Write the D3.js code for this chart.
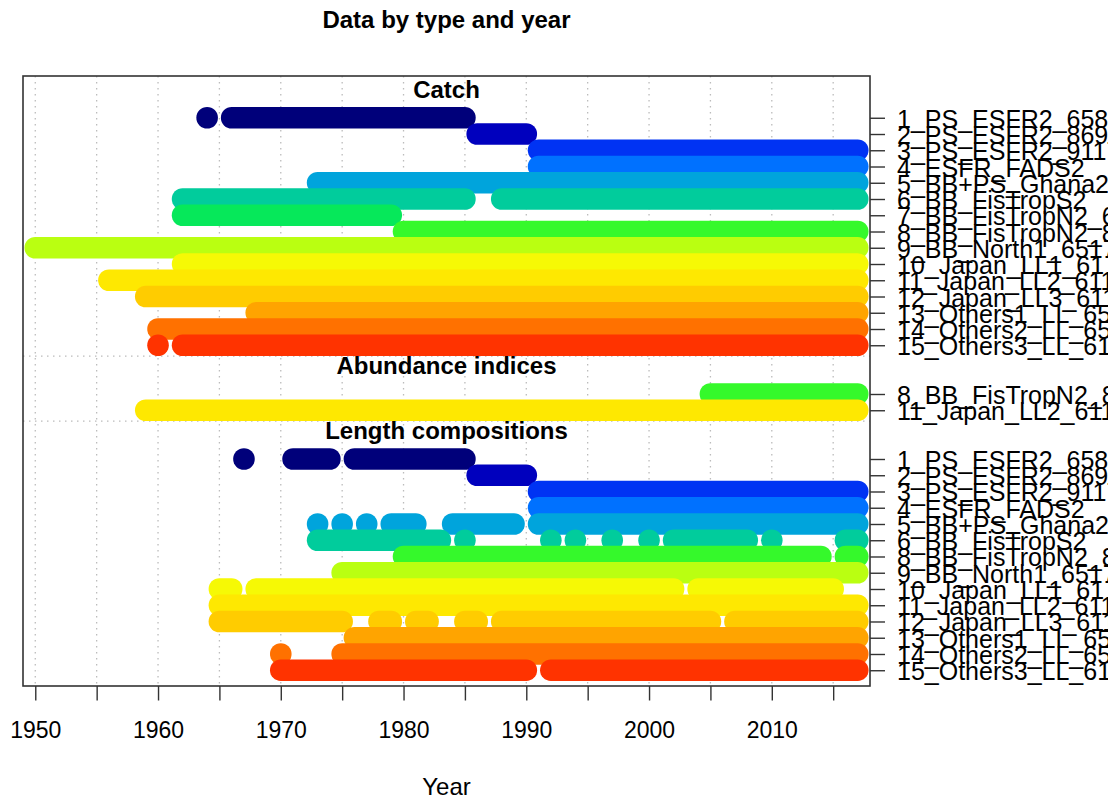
<!DOCTYPE html>
<html>
<head>
<meta charset="utf-8">
<script src="https://cdn.jsdelivr.net/npm/d3@7"></script>
<style>
  body { margin: 0; background: #fff; }
  svg { display: block; }
  text { font-family: "Liberation Sans", Arial, Helvetica, sans-serif; fill: #000; }
</style>
</head>
<body>
<svg id="chart" width="1108" height="803"></svg>
<script>
// Fleet labels, in fleet-number order
const fleetNames = [
  "1_PS_ESFR2_6585", "2_PS_ESFR2_8690", "3_PS_ESFR2_9117", "4_ESFR_FADS2",
  "5_BB+PS_Ghana2", "6_BB_FisTropS2", "7_BB_FisTropN2_6279", "8_BB_FisTropN2_8017",
  "9_BB_North1_6517", "10_Japan_LL1_6175", "11_Japan_LL2_6117", "12_Japan_LL3_6117",
  "13_Others1_LL_6517", "14_Others2_LL_6517", "15_Others3_LL_6117"
];

// One colour per fleet (dark blue -> red)
const fleetColors = [
  "#00007A", "#0000BE", "#0033F3", "#0071FF", "#00A4DC", "#01CC9C", "#06E85A",
  "#35F92B", "#BAFF11", "#F6F905", "#FEE801", "#FFCC00", "#FFA400", "#FF7100", "#FF3300"
];

// Years with data: [fleet, [[firstYear, lastYear], ...]]
const catchRuns = [
  [1,  [[1964, 1964], [1966, 1985]]],
  [2,  [[1986, 1990]]],
  [3,  [[1991, 2017]]],
  [4,  [[1991, 2017]]],
  [5,  [[1973, 2017]]],
  [6,  [[1962, 1985], [1988, 2017]]],
  [7,  [[1962, 1979]]],
  [8,  [[1980, 2017]]],
  [9,  [[1950, 2017]]],
  [10, [[1962, 2017]]],
  [11, [[1956, 2017]]],
  [12, [[1959, 2017]]],
  [13, [[1968, 2017]]],
  [14, [[1960, 2017]]],
  [15, [[1960, 1960], [1962, 2017]]]
];

const indexRuns = [
  [8,  [[2005, 2017]]],
  [11, [[1959, 2017]]]
];

const lencompRuns = [
  [1,  [[1967, 1967], [1971, 1974], [1976, 1985]]],
  [2,  [[1986, 1990]]],
  [3,  [[1991, 2017]]],
  [4,  [[1991, 2017]]],
  [5,  [[1973, 1973], [1975, 1975], [1977, 1977], [1979, 1981], [1984, 1989], [1991, 2017]]],
  [6,  [[1973, 1983], [1985, 1985], [1992, 1992], [1994, 1994], [1997, 1997], [2000, 2000],
        [2002, 2008], [2010, 2010], [2016, 2017]]],
  [8,  [[1980, 2014], [2016, 2017]]],
  [9,  [[1975, 2017]]],
  [10, [[1965, 1966], [1968, 2002], [2004, 2015]]],
  [11, [[1965, 2017]]],
  [12, [[1965, 1975], [1978, 1979], [1981, 1982], [1985, 1986], [1988, 2005], [2007, 2017]]],
  [13, [[1976, 2017]]],
  [14, [[1970, 1970], [1975, 2017]]],
  [15, [[1970, 1990], [1992, 2017]]]
];

const sectionTitles = ["Catch", "Abundance indices", "Length compositions"];
const yearTicks = [1950, 1955, 1960, 1965, 1970, 1975, 1980, 1985, 1990, 1995, 2000, 2005, 2010, 2015];
const yearLabels = [1950, 1960, 1970, 1980, 1990, 2000, 2010];

// ---- layout ----
const box = { left: 23, right: 870, top: 76, bottom: 686 };
const dotR = 10.8;
const FS = 24;

const svg = d3.select("#chart");

const x = d3.scaleLinear().domain([1949, 2018]).range([box.left, box.right]);

// Each row gets one slot; two empty slots separate the data types
const sections = [catchRuns, indexRuns, lencompRuns].map((runs, i) => ({ title: sectionTitles[i], runs }));
let slot = 0;
const rows = [];
sections.forEach((s, i) => {
  if (i > 0) slot += 2;
  s.first = slot;
  s.runs.forEach(([fleet, spans]) => {
    rows.push({ slot, fleet, spans });
    slot += 1;
  });
  s.last = slot - 1;
});

const y = d3.scaleLinear().domain([-2.57, 34.97]).range([box.top, box.bottom]);

// vertical dotted grid
svg.append("g")
  .selectAll("line")
  .data(yearTicks)
  .join("line")
  .attr("x1", d => x(d)).attr("x2", d => x(d))
  .attr("y1", box.top).attr("y2", box.bottom)
  .attr("stroke", "#bcbcbc")
  .attr("stroke-width", 1.3)
  .attr("stroke-dasharray", "1.5,4.5");

// dotted separators between data types
svg.append("g")
  .selectAll("line")
  .data(sections.slice(0, -1))
  .join("line")
  .attr("x1", box.left).attr("x2", box.right)
  .attr("y1", d => y(d.last + 0.67)).attr("y2", d => y(d.last + 0.67))
  .attr("stroke", "#bcbcbc")
  .attr("stroke-width", 1.3)
  .attr("stroke-dasharray", "1.5,4.5");

// data runs: each year is a dot, consecutive years merge into a rounded bar
const runData = rows.flatMap(r => r.spans.map(([a, b]) => ({ slot: r.slot, fleet: r.fleet, a, b })));
svg.append("g")
  .selectAll("rect")
  .data(runData)
  .join("rect")
  .attr("x", d => x(d.a) - dotR)
  .attr("width", d => x(d.b) - x(d.a) + 2 * dotR)
  .attr("y", d => y(d.slot) - dotR)
  .attr("height", 2 * dotR)
  .attr("rx", dotR).attr("ry", dotR)
  .attr("fill", d => fleetColors[d.fleet - 1]);

// section titles
svg.append("g")
  .selectAll("text")
  .data(sections)
  .join("text")
  .attr("x", (box.left + box.right) / 2)
  .attr("y", d => y(d.first) - 19.5)
  .attr("text-anchor", "middle")
  .attr("font-weight", "bold")
  .attr("font-size", FS)
  .text(d => d.title);

// plot frame
svg.append("rect")
  .attr("x", box.left).attr("y", box.top)
  .attr("width", box.right - box.left).attr("height", box.bottom - box.top)
  .attr("fill", "none").attr("stroke", "#333").attr("stroke-width", 1.6);

// bottom axis
const xAxis = d3.axisBottom(x)
  .tickValues(yearTicks)
  .tickFormat(d => yearLabels.includes(d) ? String(d) : "")
  .tickSize(14.5).tickSizeOuter(0).tickPadding(21);
const gx = svg.append("g").attr("transform", `translate(0,${box.bottom})`).call(xAxis);
gx.select(".domain").remove();
gx.selectAll("line").attr("stroke", "#333").attr("stroke-width", 1.4);
gx.selectAll("text").attr("font-size", 23).attr("font-family", null);

// right axis: fleet names per row
const yAxis = d3.axisRight(y)
  .tickValues(rows.map(r => r.slot))
  .tickFormat((d, i) => fleetNames[rows[i].fleet - 1])
  .tickSize(15).tickSizeOuter(0).tickPadding(12);
const gy = svg.append("g").attr("transform", `translate(${box.right},0)`).call(yAxis);
gy.select(".domain").remove();
gy.selectAll("line").attr("stroke", "#333").attr("stroke-width", 1.4);
gy.selectAll("text").attr("font-size", 25).attr("font-family", null).attr("dy", "0.38em");

// chart title and axis title
svg.append("text")
  .attr("x", (box.left + box.right) / 2).attr("y", 28)
  .attr("text-anchor", "middle").attr("font-weight", "bold").attr("font-size", FS)
  .text("Data by type and year");

svg.append("text")
  .attr("x", (box.left + box.right) / 2).attr("y", 795)
  .attr("text-anchor", "middle").attr("font-size", FS)
  .text("Year");
</script>
</body>
</html>
